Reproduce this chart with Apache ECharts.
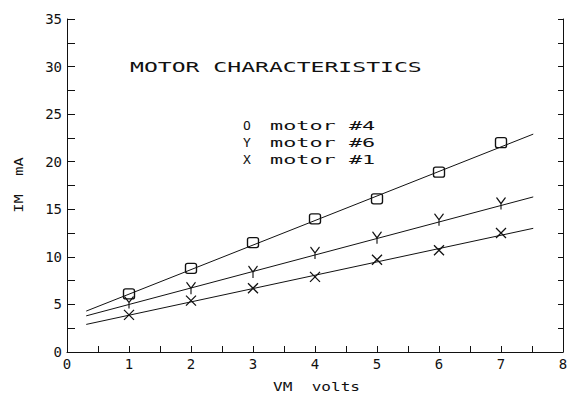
<!DOCTYPE html>
<html><head><meta charset="utf-8">
<script src="https://cdn.jsdelivr.net/npm/echarts@6/dist/echarts.min.js"></script>
<style>html,body{margin:0;padding:0;background:#fff}#c{width:567px;height:397px}</style>
</head><body><div id="c"></div>
<script>
// ---- data ----
const volts = [1, 2, 3, 4, 5, 6, 7];
const motor4 = [6.1, 8.8, 11.5, 14.0, 16.1, 18.9, 22.0];
const motor6 = [5.2, 6.7, 8.4, 10.4, 12.0, 13.9, 15.6];
const motor1 = [3.9, 5.4, 6.7, 7.9, 9.7, 10.7, 12.5];
const fitX = [0.31, 7.52];
const fit4 = [4.3, 22.9];
const fit6 = [3.8, 16.3];
const fit1 = [2.9, 13.0];
const seriesNames = ['motor #4', 'motor #6', 'motor #1'];
const legendMarks = ['O', 'Y', 'X'];
const titleText = 'MOTOR CHARACTERISTICS';
const xName = 'VM  volts';
const yName = 'IM  mA';
const xTicks = { min: 0, max: 8, step: 1 };
const yTicks = { min: 0, max: 35, step: 5 };

// ---- styles ----
const INK = '#111';
const FONT = '"DejaVu Sans Mono", monospace';
const symbols = [
  'path://M2,0L8,0Q10,0 10,2L10,8Q10,10 8,10L2,10Q0,10 0,8L0,2Q0,0 2,0Z',
  'path://M0,0L5,6L10,0M5,6L5,12',
  'path://M0,0L10,10M10,0L0,10'
];
const symbolSizes = [[11, 10], [9, 12], [10, 10]];
const values = [motor4, motor6, motor1];
const fits = [fit4, fit6, fit1];

const series = [];
values.forEach((vals, i) => {
  series.push({
    name: seriesNames[i],
    type: 'line',
    data: [[fitX[0], fits[i][0]], [fitX[1], fits[i][1]]],
    showSymbol: false,
    symbol: 'none',
    lineStyle: { color: INK, width: 1 },
    silent: true,
    z: 2
  });
  series.push({
    name: seriesNames[i] + ' points',
    type: 'scatter',
    data: volts.map((v, k) => [v, vals[k]]),
    symbol: symbols[i],
    symbolSize: symbolSizes[i],
    itemStyle: { color: 'none', borderColor: INK, borderWidth: 1.3, opacity: 1 },
    silent: true,
    z: 3
  });
});

const graphic = [
  {
    type: 'text', x: 130, y: 67, scaleX: 1.65,
    style: { text: titleText, font: '14px ' + FONT, fill: INK, textAlign: 'left', textVerticalAlign: 'middle', align: 'left', verticalAlign: 'middle' }
  },
  {
    type: 'text', x: 273, y: 387, scaleX: 1.34,
    style: { text: xName, font: '12px ' + FONT, fill: INK, textAlign: 'left', textVerticalAlign: 'middle', align: 'left', verticalAlign: 'middle' }
  },
  {
    type: 'text', x: 18, y: 185, scaleX: 1.18, rotation: Math.PI / 2,
    style: { text: yName, font: '13px ' + FONT, fill: INK, textAlign: 'center', textVerticalAlign: 'middle', align: 'center', verticalAlign: 'middle' }
  }
];
legendMarks.forEach((m, i) => {
  const y = 125.5 + i * 16.8;
  graphic.push({
    type: 'text', x: 243, y: y,
    style: { text: m, font: '13px ' + FONT, fill: INK, textAlign: 'left', textVerticalAlign: 'middle', align: 'left', verticalAlign: 'middle' }
  });
  graphic.push({
    type: 'text', x: 270, y: y, scaleX: 1.68,
    style: { text: seriesNames[i], font: '13px ' + FONT, fill: INK, textAlign: 'left', textVerticalAlign: 'middle', align: 'left', verticalAlign: 'middle' }
  });
});

const chart = echarts.init(document.getElementById('c'), null, { renderer: 'svg' });
chart.setOption({
  animation: false,
  backgroundColor: '#fff',
  grid: { left: 67, right: 4, top: 19, bottom: 45, containLabel: false, outerBoundsMode: 'none' },
  xAxis: {
    type: 'value', min: xTicks.min, max: xTicks.max, interval: xTicks.step,
    axisLine: { show: true, onZero: false, lineStyle: { color: INK, width: 1 } },
    axisTick: { show: true, inside: true, length: 6, lineStyle: { color: INK, width: 1 } },
    minorTick: { show: true, splitNumber: 2, length: 6, lineStyle: { color: INK, width: 1 } },
    splitLine: { show: false },
    minorSplitLine: { show: false },
    axisLabel: { color: INK, fontFamily: FONT, fontSize: 14, margin: 5, showMinLabel: true, showMaxLabel: true }
  },
  yAxis: [
    {
      type: 'value', position: 'left', min: yTicks.min, max: yTicks.max, interval: yTicks.step,
      axisLine: { show: true, onZero: false, lineStyle: { color: INK, width: 1 } },
      axisTick: { show: true, inside: true, length: 8, lineStyle: { color: INK, width: 1 } },
      minorTick: { show: true, splitNumber: 2, length: 8, lineStyle: { color: INK, width: 1 } },
      splitLine: { show: false },
      minorSplitLine: { show: false },
      axisLabel: { color: INK, fontFamily: FONT, fontSize: 14, margin: 5, showMinLabel: true, showMaxLabel: true }
    },
    {
      type: 'value', position: 'right', min: yTicks.min, max: yTicks.max, interval: yTicks.step / 2,
      axisLine: { show: true, onZero: false, lineStyle: { color: INK, width: 1 } },
      axisTick: { show: true, inside: true, length: 5, lineStyle: { color: INK, width: 1 } },
      splitLine: { show: false },
      axisLabel: { show: false }
    }
  ],
  series: series,
  graphic: graphic
});
</script>
</body></html>
